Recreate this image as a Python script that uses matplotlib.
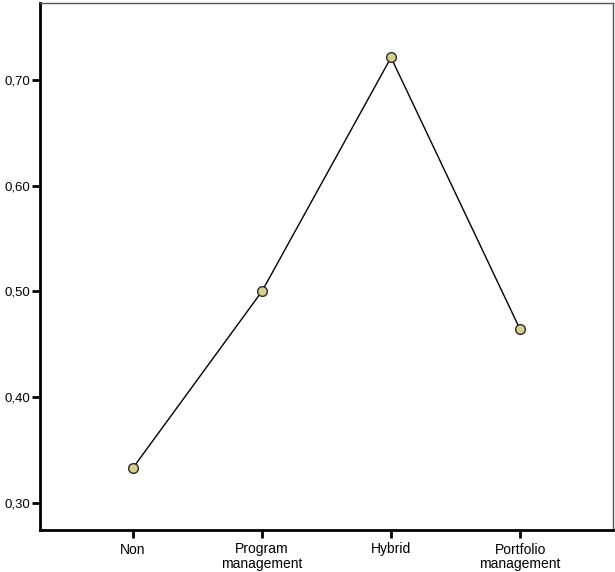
import matplotlib
matplotlib.use("Agg")
import matplotlib.pyplot as plt
from matplotlib.ticker import FuncFormatter

categories = ["Non", "Program\nmanagement", "Hybrid", "Portfolio\nmanagement"]
values = [0.333, 0.500, 0.721, 0.464]
yticks = [0.30, 0.40, 0.50, 0.60, 0.70]

plt.rcParams['font.family'] = ['Liberation Sans', 'DejaVu Sans']

fig = plt.figure(figsize=(6.15, 5.72), dpi=100)
ax = fig.add_axes([40/615, 42/572, 573/615, 527/572])

x = list(range(len(categories)))
ax.plot(x, values, color='black', linewidth=1.0, zorder=2)
ax.plot(x, values, linestyle='none', marker='o', markersize=7,
        markerfacecolor='#d6d08f', markeredgecolor='#2b2b2b', markeredgewidth=1.0, zorder=3)

ax.set_xlim(-0.72, 3.72)
ax.set_ylim(0.2744, 0.7725)
ax.set_xticks(x)
ax.set_xticklabels(categories, fontsize=10, linespacing=1.05)
ax.set_yticks(yticks)
ax.yaxis.set_major_formatter(FuncFormatter(lambda v, p: f"{v:.2f}".replace('.', ',')))
ax.tick_params(axis='y', labelsize=9.5, length=6, width=2, pad=1)
ax.tick_params(axis='x', length=6, width=2, pad=3)

for s in ['left', 'bottom']:
    ax.spines[s].set_linewidth(2)
    ax.spines[s].set_color('black')
for s in ['top', 'right']:
    ax.spines[s].set_linewidth(1)
    ax.spines[s].set_color('#555555')

fig.savefig("out.png", dpi=100)
